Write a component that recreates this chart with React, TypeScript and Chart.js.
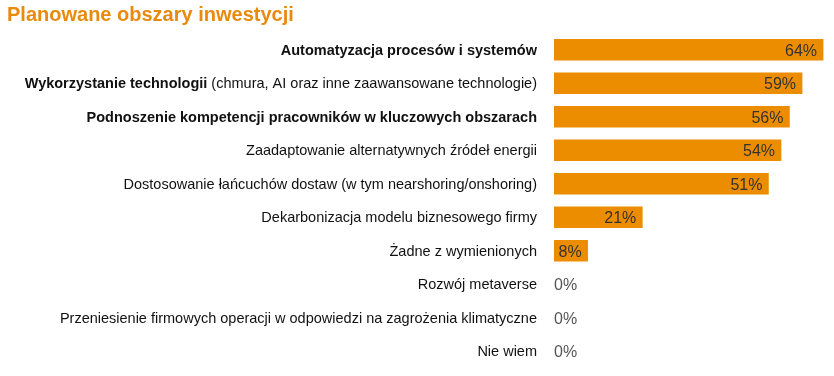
import { useEffect, useRef } from "react";
import { Chart, registerables } from "chart.js";

Chart.register(...registerables);

const chartTitle = "Planowane obszary inwestycji";

const labelBold = [
  "Automatyzacja procesów i systemów",
  "Wykorzystanie technologii",
  "Podnoszenie kompetencji pracowników w kluczowych obszarach",
  "",
  "",
  "",
  "",
  "",
  "",
  "",
];

const labelRest = [
  "",
  " (chmura, AI oraz inne zaawansowane technologie)",
  "",
  "Zaadaptowanie alternatywnych źródeł energii",
  "Dostosowanie łańcuchów dostaw (w tym nearshoring/onshoring)",
  "Dekarbonizacja modelu biznesowego firmy",
  "Żadne z wymienionych",
  "Rozwój metaverse",
  "Przeniesienie firmowych operacji w odpowiedzi na zagrożenia klimatyczne",
  "Nie wiem",
];

const categories = labelBold.map((b, i) => b + labelRest[i]);

const values = [64, 59, 56, 54, 51, 21, 8, 0, 0, 0];

const ORANGE = "#EC8D00";
const FONT = "'Liberation Sans', Arial, Helvetica, sans-serif";

const labelsPlugin = {
  id: "customLabels",
  afterDatasetsDraw(chart: any) {
    const { ctx, chartArea, scales } = chart;
    const yScale = scales.y;
    const meta = chart.getDatasetMeta(0);
    ctx.save();
    // title
    ctx.fillStyle = "#E98A0C";
    ctx.font = `bold 20px ${FONT}`;
    ctx.textAlign = "left";
    ctx.textBaseline = "alphabetic";
    ctx.fillText(chartTitle, 7, 21);

    const labelFs = 14.5;
    const right = chartArea.left - 17;
    categories.forEach((_, i) => {
      const y = yScale.getPixelForValue(i);
      const base = y + labelFs * 0.36;
      ctx.fillStyle = "#111111";
      ctx.textAlign = "right";
      ctx.font = `${labelFs}px ${FONT}`;
      const rest = labelRest[i];
      const restW = rest ? ctx.measureText(rest).width : 0;
      if (rest) ctx.fillText(rest, right, base);
      if (labelBold[i]) {
        ctx.font = `bold ${labelFs}px ${FONT}`;
        ctx.fillText(labelBold[i], right - restW, base);
      }
      // value label
      const valFs = 16;
      ctx.font = `${valFs}px ${FONT}`;
      const vb = y + valFs * 0.36;
      const bar = meta.data[i];
      const txt = values[i] + "%";
      if (values[i] > 0) {
        ctx.fillStyle = "#333333";
        ctx.textAlign = "right";
        ctx.fillText(txt, bar.x - 6, vb);
      } else {
        ctx.fillStyle = "#555555";
        ctx.textAlign = "left";
        ctx.fillText(txt, chartArea.left, vb);
      }
    });
    ctx.restore();
  },
};

export default function App() {
  const ref = useRef<HTMLCanvasElement | null>(null);
  useEffect(() => {
    if (!ref.current) return;
    const chart = new Chart(ref.current, {
      type: "bar",
      data: {
        labels: categories,
        datasets: [
          {
            data: values,
            backgroundColor: values.map((v) => (v > 0 ? ORANGE : "rgba(0,0,0,0)")),
            borderWidth: 0,
            barThickness: 21,
          },
        ],
      },
      options: {
        indexAxis: "y",
        animation: false,
        responsive: false,
        layout: { padding: { left: 554, right: 0, top: 33, bottom: 8 } },
        plugins: {
          legend: { display: false },
          title: { display: false },
          tooltip: { enabled: false },
        },
        scales: {
          x: { display: false, min: 0, max: 66.6 },
          y: { display: false },
        },
      },
      plugins: [labelsPlugin],
    });
    return () => chart.destroy();
  }, []);
  return (
    <div style={{ position: "fixed", left: 0, top: 0, width: 834, height: 376, background: "#fff" }}>
      <canvas ref={ref} width={834} height={376} />
    </div>
  );
}
